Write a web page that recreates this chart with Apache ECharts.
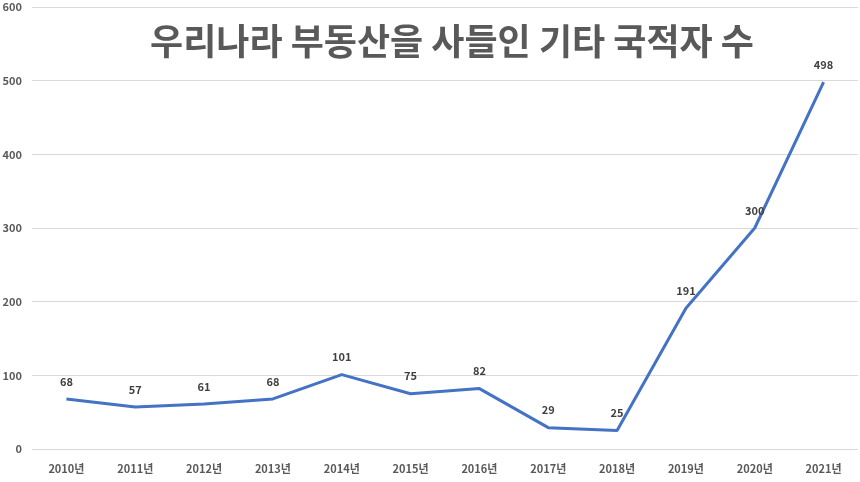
<!DOCTYPE html>
<html><head><meta charset="utf-8">
<script src="https://cdn.jsdelivr.net/npm/echarts@6/dist/echarts.min.js"></script>
<style>html,body{margin:0;padding:0;background:#fff}#c{width:860px;height:482px}</style>
</head><body><div id="c"></div>
<script>
const titleText = '우리나라 부동산을 사들인 기타 국적자 수';
const categories = ['2010년','2011년','2012년','2013년','2014년','2015년','2016년','2017년','2018년','2019년','2020년','2021년'];
const values = [68,57,61,68,101,75,82,29,25,191,300,498];
const chart = echarts.init(document.getElementById('c'));
chart.setOption({
  animation:false,
  title:{text:titleText,left:447,top:18,textAlign:'center',textStyle:{fontFamily:'Noto Sans CJK KR',fontSize:36,fontWeight:'bold',color:'#595959'}},
  grid:{left:32,right:2,top:7,bottom:33,containLabel:false,outerBoundsMode:'none'},
  xAxis:{type:'category',data:categories,boundaryGap:true,
    axisLine:{show:false},axisTick:{show:false},
    axisLabel:{margin:14,fontFamily:'Noto Sans CJK KR',fontSize:11,fontWeight:'bold',color:'#595959'}},
  yAxis:{type:'value',min:0,max:600,interval:100,
    axisLine:{show:false},axisTick:{show:false},
    splitLine:{lineStyle:{color:'#d9d9d9',width:1}},
    axisLabel:{margin:10,fontFamily:'Noto Sans CJK KR',fontSize:11,fontWeight:'bold',color:'#595959'}},
  series:[{type:'line',data:values,symbol:'circle',symbolSize:0,showSymbol:true,
    itemStyle:{color:'#4472C4'},
    lineStyle:{color:'#4472C4',width:3},
    label:{show:true,position:'top',distance:12,fontFamily:'Noto Sans CJK KR',fontSize:11,fontWeight:'bold',color:'#404040'}}]
});
</script></body></html>
